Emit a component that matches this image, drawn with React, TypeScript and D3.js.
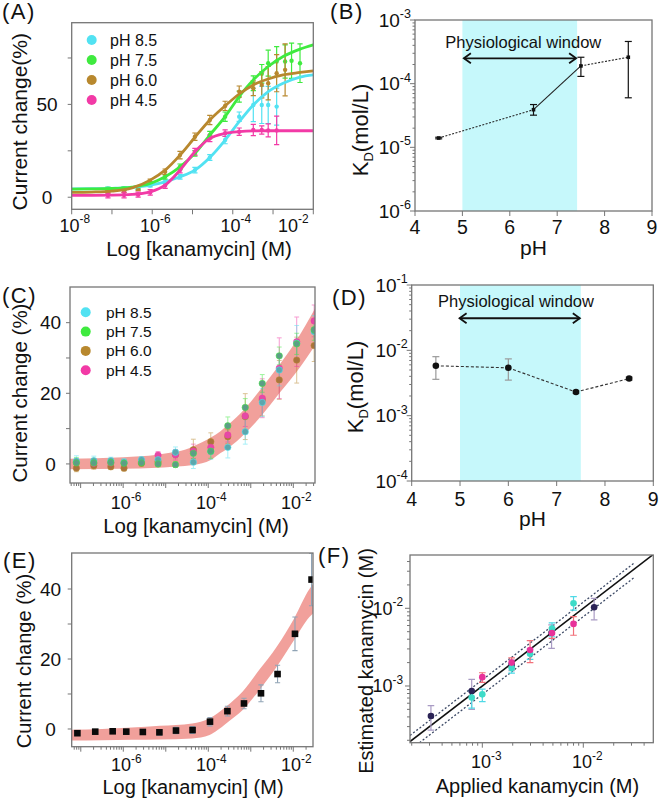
import React from "react";
import * as d3 from "d3";

const FONT = "'Liberation Sans', Arial, Helvetica, sans-serif";
const FRAME = "#767676";
const INK = "#111";

const CYAN = "#52e2f2";
const GREEN = "#3fea3f";
const BROWN = "#b8882e";
const PINK = "#f23aa6";

// ---------------- Panel A data ----------------
const A_LOG_CONC = [-7.1, -6.7, -6.35, -6.05, -5.68, -5.31, -4.94, -4.57, -4.19, -3.84, -3.49, -3.28, -3.12, -2.91, -2.7, -2.54, -2.33];
const A_PH85 = [4.6, 4.7, 5.0, 6.3, 8.3, 11.0, 14.6, 21.4, 30.8, 43.4, 49.7, 49.7, 49.7, 48.8, null, null, null];
const A_PH85_ERR = [0.8, 0.8, 0.8, 0.8, 1.0, 1.2, 1.5, 1.5, 2.0, 2.5, 9.0, 10.0, 10.0, 10.0, null, null, null];
const A_PH75 = [4.5, 4.6, 5.2, 7.2, 11.0, 16.4, 23.6, 33.5, 43.4, 54.2, 61.4, 66.5, 72.2, 73.1, 73.1, 73.5, 72.2];
const A_PH75_ERR = [0.8, 0.8, 0.8, 1.0, 1.2, 1.5, 1.5, 2.0, 2.5, 3.0, 4.0, 5.0, 7.0, 8.0, 9.0, 9.5, 10.4];
const A_PH60 = [3.0, 3.3, 4.6, 8.6, 13.7, 22.7, 32.6, 41.6, 49.2, 56.9, 58.7, 60.5, 61.4, 66.8, 68.6, null, null];
const A_PH60_ERR = [0.8, 0.8, 1.0, 1.2, 1.5, 2.0, 2.0, 2.5, 2.5, 3.0, 4.0, 7.0, 9.0, 10.0, 14.0, null, null];
const A_PH45 = [1.0, 1.2, 1.4, 2.6, 6.3, 14.6, 24.5, 31.7, 34.5, 35.3, 36.2, 36.2, 36.0, 36.0, null, null, null];
const A_PH45_ERR = [1.3, 1.5, 1.3, 1.5, 1.5, 1.5, 1.8, 1.8, 1.8, 2.0, 3.0, 2.2, 3.5, 7.7, null, null, null];

const A_FIT_LOG_CONC = [-8, -7.5, -7, -6.5, -6.05, -5.68, -5.31, -4.94, -4.57, -4.19, -3.84, -3.49, -3.12, -2.75, -2.33, -2];
const A_FIT_PH85 = [4.5, 4.6, 4.8, 5.3, 6.5, 8.3, 11.0, 14.6, 21.4, 30.8, 40.7, 49.7, 56.9, 61.4, 64.7, 65.9];
const A_FIT_PH75 = [4.4, 4.5, 4.7, 5.5, 7.4, 11.0, 16.4, 23.6, 33.5, 43.4, 54.2, 63.2, 70.4, 75.8, 79.8, 82.1];
const A_FIT_PH60 = [2.6, 2.8, 3.3, 5.0, 9.2, 14.6, 22.7, 32.3, 41.6, 49.2, 55.6, 60.5, 63.7, 65.9, 67.2, 68.1];
const A_FIT_PH45 = [1.0, 1.0, 1.1, 1.5, 2.9, 6.5, 14.6, 24.5, 31.7, 34.4, 35.3, 35.7, 35.8, 35.8, 35.8, 35.8];

const PH_LEGEND = ["pH 8.5", "pH 7.5", "pH 6.0", "pH 4.5"];
const A_X_LABEL_EXPS = [-8, -6, -4, -2];
const A_X_TICK_EXPS = [-8, -7, -6, -5, -4, -3, -2];
const A_Y_LABELS = [0, 50];
const A_Y_TICKS = [0, 25, 50, 75];

// ---------------- Panel B data ----------------
const B_PH = [4.5, 6.5, 7.5, 8.5];
const B_KD = [1.4e-5, 3.9e-5, 1.9e-4, 2.6e-4];
const B_KD_LO = [1.36e-5, 3.2e-5, 1.3e-4, 6.0e-5];
const B_KD_HI = [1.44e-5, 4.7e-5, 2.6e-4, 4.6e-4];
const B_WINDOW = [5, 7.42];
const B_ARROW = [5.01, 7.42, 2.5e-4];
const B_X_TICKS = [4, 5, 6, 7, 8, 9];
const B_Y_EXPS = [-6, -5, -4, -3];

// ---------------- Panel C data ----------------
const C_LOG_CONC = [-7.10, -6.69, -6.29, -5.98, -5.57, -5.18, -4.77, -4.35, -3.94, -3.54, -3.13, -2.73, -2.33, -1.92, -1.51];
const C_PH85 = [0.8, 0.9, 0.9, 0.5, 1.2, 1.2, 3.3, 0.5, 3.5, 4.7, 9.1, 17.4, 26.6, 34.2, 37.5];
const C_PH85_ERR = [1.5, 1.3, 1.0, 1.0, 0.8, 1.0, 1.5, 1.8, 2.2, 3.0, 3.5, 4.0, 4.5, 5.0, 4.5];
const C_PH75 = [0.3, 0.3, 0.4, 0.2, 0.3, 0.0, -0.2, 3.0, 3.6, 10.8, 16.0, 22.8, 30.6, 34.0, 38.0];
const C_PH75_ERR = [1.5, 1.3, 1.0, 1.0, 0.8, 0.8, 0.8, 1.5, 2.0, 2.5, 2.5, 2.5, 2.5, 3.0, 3.0];
const C_PH60 = [-1.2, -0.5, -0.8, -1.2, 0.2, 0.6, 2.7, 4.0, 6.3, 7.7, 13.4, 18.1, 23.8, 29.4, 33.5];
const C_PH60_ERR = [1.0, 1.0, 0.8, 0.8, 0.8, 1.0, 1.0, 3.0, 2.5, 2.0, 6.5, 4.5, 5.5, 6.5, 4.5];
const C_PH45 = [0.5, 0.2, 0.3, 0.3, 0.8, 2.5, 2.6, 3.6, 4.7, 8.2, 13.6, 18.6, 27.1, 34.6, 40.5];
const C_PH45_ERR = [1.0, 1.0, 0.8, 0.8, 0.8, 1.0, 1.5, 2.0, 2.0, 2.0, 3.0, 5.5, 8.6, 7.0, 4.5];
const C_BAND_LOG_CONC = [-7.25, -6.0, -5.2, -4.9, -4.55, -4.35, -3.94, -3.72, -3.54, -3.13, -2.73, -2.33, -1.92, -1.49];
const C_BAND_UPPER = [1.5, 1.9, 2.6, 3.2, 4.0, 5.0, 7.5, 9.2, 11.0, 15.8, 21.7, 28.0, 35.1, 44.0];
const C_BAND_LOWER = [-1.5, -1.4, -1.1, -0.9, -0.6, -0.3, 1.1, 3.0, 4.4, 8.7, 13.9, 20.0, 26.1, 33.5];
const LIN_Y_LABELS = [0, 20, 40];
const LIN_Y_TICKS = [0, 10, 20, 30, 40];
const CE_X_LABEL_EXPS = [-6, -4, -2];

// ---------------- Panel D data ----------------
const D_PH = [4.5, 6.0, 7.4, 8.5];
const D_KD = [5.8e-3, 5.4e-3, 2.3e-3, 3.7e-3];
const D_KD_LO = [3.6e-3, 3.5e-3, 2.2e-3, 3.5e-3];
const D_KD_HI = [8.0e-3, 7.4e-3, 2.4e-3, 3.9e-3];
const D_WINDOW = [5, 7.5];
const D_ARROW = [4.97, 7.5, 0.031];
const D_Y_EXPS = [-4, -3, -2, -1];

// ---------------- Panel E data ----------------
const E_LOG_CONC = [-7.08, -6.66, -6.25, -5.93, -5.54, -5.15, -4.76, -4.37, -3.96, -3.55, -3.16, -2.76, -2.37, -1.96, -1.57];
const E_VALUE = [-1.2, -0.76, -0.66, -0.76, -0.85, -0.95, -0.45, -0.3, 2.1, 5.1, 7.3, 10.2, 15.7, 27.2, 42.7];
const E_ERR = [0.5, 0.5, 0.6, 0.7, 0.7, 0.8, 0.9, 1.0, 1.2, 1.4, 1.5, 2.4, 2.5, 4.8, 7.5];
const E_BAND_LOG_CONC = [-7.25, -6.5, -5.8, -5.14, -4.38, -3.97, -3.78, -3.58, -3.19, -2.8, -2.39, -1.98, -1.62, -1.49];
const E_BAND_UPPER = [-0.2, 0.0, 0.4, 0.9, 1.6, 3.1, 4.5, 6.4, 10.7, 16.9, 23.5, 31.6, 40.0, 42.0];
const E_BAND_LOWER = [-3.3, -3.2, -3.1, -3.0, -2.7, -1.7, -0.3, 1.6, 5.4, 11.1, 17.8, 25.4, 32.0, 33.5];

// ---------------- Panel F data ----------------
const F_NAVY_X = [3.1e-4, 7.85e-4, 1.95e-3, 4.85e-3, 1.28e-2];
const F_NAVY_Y = [4.1e-4, 8.6e-4, 1.86e-3, 4.85e-3, 1.03e-2];
const F_NAVY_LO = [2.7e-4, 5.0e-4, 1.57e-3, 3.05e-3, 7.1e-3];
const F_NAVY_HI = [5.6e-4, 1.22e-3, 2.16e-3, 6.1e-3, 1.34e-2];
const F_CYAN_X = [7.85e-4, 1.0e-3, 1.95e-3, 2.97e-3, 4.9e-3, 8.0e-3];
const F_CYAN_Y = [7.1e-4, 7.8e-4, 1.7e-3, 2.6e-3, 5.5e-3, 1.16e-2];
const F_CYAN_LO = [5.2e-4, 6.3e-4, 1.46e-3, 2.2e-3, 4.3e-3, 9.5e-3];
const F_CYAN_HI = [8.6e-4, 9.1e-4, 1.96e-3, 3.0e-3, 6.5e-3, 1.41e-2];
const F_PINK_X = [1.0e-3, 1.95e-3, 2.97e-3, 4.9e-3, 8.0e-3];
const F_PINK_Y = [1.3e-3, 2.0e-3, 2.9e-3, 4.8e-3, 6.3e-3];
const F_PINK_LO = [1.11e-3, 1.75e-3, 2.0e-3, 4.1e-3, 4.5e-3];
const F_PINK_HI = [1.48e-3, 2.3e-3, 3.83e-3, 5.6e-3, 7.8e-3];
const F_UPPER_RATIO = 1.2;
const F_LOWER_RATIO = 0.78;
const F_GUIDE_MAX = 0.032;
const F_EXPS = [-3, -2];

// ---------------- helpers ----------------
const isDecade = (v: number) => Math.abs(Math.log10(v) - Math.round(Math.log10(v))) < 1e-6;

function Frame({ L, R, T, B }: any) {
  return <rect x={L} y={T} width={R - L} height={B - T} fill="none" stroke={FRAME} strokeWidth={1.3} />;
}

function Pow({ x, y, exp, size, anchor = "middle" }: any) {
  return (
    <text x={x} y={y} fontSize={size} textAnchor={anchor} fill={INK}>
      10<tspan dy={-size * 0.45} fontSize={size * 0.66}>{String(exp)}</tspan>
    </text>
  );
}

function ErrorBar({ x, y1, y2, cap, stroke, sw = 1, opacity = 1 }: any) {
  return (
    <g stroke={stroke} strokeWidth={sw} opacity={opacity}>
      <line x1={x} x2={x} y1={y1} y2={y2} />
      <line x1={x - cap} x2={x + cap} y1={y1} y2={y1} />
      <line x1={x - cap} x2={x + cap} y1={y2} y2={y2} />
    </g>
  );
}

function PanelLabel({ x, y, text }: any) {
  return (
    <text x={x} y={y} fontSize={22} letterSpacing={1.5} fill={INK}>
      {text}
    </text>
  );
}

function LogBottomTicks({ scale, B, major = 5, minor = 3, minorOn = true }: any) {
  const ticks: number[] = scale.ticks();
  return (
    <g stroke={FRAME} strokeWidth={1}>
      {ticks
        .filter((t) => minorOn || isDecade(t))
        .map((t, i) => (
          <line key={i} x1={scale(t)} x2={scale(t)} y1={B} y2={B + (isDecade(t) ? major : minor)} />
        ))}
    </g>
  );
}

function LogLeftTicks({ scale, L, major = 5, minor = 3 }: any) {
  const ticks: number[] = scale.ticks();
  return (
    <g stroke={FRAME} strokeWidth={1}>
      {ticks.map((t, i) => (
        <line key={i} y1={scale(t)} y2={scale(t)} x1={L} x2={L - (isDecade(t) ? major : minor)} />
      ))}
    </g>
  );
}

// ---------------- Panel A ----------------
function PanelA() {
  const L = 71.7, R = 313.3, T = 22.7, B = 209.3;
  const x = d3.scaleLog().domain([1e-8, 1e-2]).range([L, R]);
  const y = d3.scaleLinear().domain([-6.5, 94]).range([B, T]);
  const line = d3.line<[number, number]>().curve(d3.curveMonotoneX);
  const series = [
    { color: CYAN, fit: A_FIT_PH85, pts: A_PH85, err: A_PH85_ERR },
    { color: GREEN, fit: A_FIT_PH75, pts: A_PH75, err: A_PH75_ERR },
    { color: BROWN, fit: A_FIT_PH60, pts: A_PH60, err: A_PH60_ERR },
    { color: PINK, fit: A_FIT_PH45, pts: A_PH45, err: A_PH45_ERR },
  ];
  const legendColors = [CYAN, GREEN, BROWN, PINK];
  return (
    <g>
      <defs>
        <clipPath id="clipA">
          <rect x={L} y={T} width={R - L} height={B - T} />
        </clipPath>
      </defs>
      <g clipPath="url(#clipA)">
        {series.map((s, si) => (
          <g key={si}>
            {s.pts.map((v, i) =>
              v == null ? null : (
                <g key={i}>
                  <ErrorBar
                    x={x(Math.pow(10, A_LOG_CONC[i]))}
                    y1={y(v + (s.err[i] as number))}
                    y2={y(v - (s.err[i] as number))}
                    cap={2.6}
                    stroke={s.color}
                    sw={1.2}
                  />
                  <circle cx={x(Math.pow(10, A_LOG_CONC[i]))} cy={y(v)} r={2.2} fill={s.color} />
                </g>
              )
            )}
          </g>
        ))}
        {series.map((s, si) => (
          <path
            key={si}
            d={line(A_FIT_LOG_CONC.map((lx, i) => [x(Math.pow(10, lx)), y(s.fit[i])]) as any) || ""}
            fill="none"
            stroke={s.color}
            strokeWidth={2.8}
          />
        ))}
      </g>
      <Frame L={L} R={R} T={T} B={B} />
      <g stroke={FRAME} strokeWidth={1}>
        {A_X_TICK_EXPS.map((e) => (
          <line key={e} x1={x(Math.pow(10, e))} x2={x(Math.pow(10, e))} y1={B} y2={B + 5} />
        ))}
        {A_Y_TICKS.map((v) => (
          <line key={v} x1={L} x2={L - 4} y1={y(v)} y2={y(v)} />
        ))}
      </g>
      {A_X_LABEL_EXPS.map((e) => (
        <Pow key={e} x={Math.min(x(Math.pow(10, e)) + 3, R - 20)} y={231.5} exp={e} size={18} />
      ))}
      {A_Y_LABELS.map((v) => (
        <text key={v} x={47} y={y(v) + 6.6} fontSize={19} textAnchor="middle" fill={INK}>
          {v}
        </text>
      ))}
      {PH_LEGEND.map((t, i) => (
        <g key={t}>
          <circle cx={91.7} cy={40 + i * 20} r={5} fill={legendColors[i]} />
          <text x={110} y={40 + i * 20 + 5.6} fontSize={16} fill={INK}>
            {t}
          </text>
        </g>
      ))}
      <text x={199} y={255.5} fontSize={20.5} textAnchor="middle" fill={INK}>
        Log [kanamycin] (M)
      </text>
      <text transform="translate(27,121.7) rotate(-90)" fontSize={21} textAnchor="middle" fill={INK}>
        Current change(%)
      </text>
      <PanelLabel x={2} y={19} text="(A)" />
    </g>
  );
}

// ---------------- K_D panels (B, D) ----------------
function KdPanel({ L, R, T, B, yDomain, yExps, ph, kd, lo, hi, windowRange, arrow, label, labelPos, textY, textX, xLabelY, xTitleY, yTitleX, yTitleCenter, dashes, markerRect, errColor, lineColor }: any) {
  const x = d3.scaleLinear().domain([4, 9]).range([L, R]);
  const y = d3.scaleLog().domain(yDomain).range([B, T]);
  const ax1 = x(arrow[0]), ax2 = x(arrow[1]), ay = y(arrow[2]);
  return (
    <g>
      <rect x={x(windowRange[0])} y={T} width={x(windowRange[1]) - x(windowRange[0])} height={B - T} fill="#c6f8fb" />
      <text x={textX} y={textY} fontSize={16.5} textAnchor="middle" fill={INK}>
        Physiological window
      </text>
      <g stroke={INK} strokeWidth={1.8} fill="none">
        <line x1={ax1 + 1} x2={ax2 - 1} y1={ay} y2={ay} />
        <polyline points={`${ax1 + 8},${ay - 5} ${ax1 + 1},${ay} ${ax1 + 8},${ay + 5}`} />
        <polyline points={`${ax2 - 8},${ay - 5} ${ax2 - 1},${ay} ${ax2 - 8},${ay + 5}`} />
      </g>
      {ph.slice(0, -1).map((p: number, i: number) => (
        <line
          key={i}
          x1={x(p)}
          y1={y(kd[i])}
          x2={x(ph[i + 1])}
          y2={y(kd[i + 1])}
          stroke={lineColor}
          strokeWidth={1.1}
          strokeDasharray={dashes[i] || undefined}
        />
      ))}
      {ph.map((p: number, i: number) => (
        <g key={i}>
          <ErrorBar x={x(p)} y1={y(hi[i])} y2={y(lo[i])} cap={3.5} stroke={errColor} sw={1.2} />
          {markerRect ? (
            <rect x={x(p) - 1.8} y={y(kd[i]) - 1.8} width={3.6} height={3.6} fill={INK} />
          ) : (
            <circle cx={x(p)} cy={y(kd[i])} r={3.3} fill={INK} />
          )}
        </g>
      ))}
      <Frame L={L} R={R} T={T} B={B} />
      <g stroke={FRAME} strokeWidth={1}>
        {B_X_TICKS.map((t) => (
          <line key={t} x1={x(t)} x2={x(t)} y1={B} y2={B + 5} />
        ))}
      </g>
      <LogLeftTicks scale={y} L={L} major={5} minor={2.5} />
      {B_X_TICKS.map((t) => (
        <text key={t} x={x(t)} y={xLabelY} fontSize={19.5} textAnchor="middle" fill={INK}>
          {t}
        </text>
      ))}
      {yExps.map((e: number) => (
        <Pow key={e} x={L - 4} y={y(Math.pow(10, e)) + 6.5} exp={e} size={19} anchor="end" />
      ))}
      <text x={(L + R) / 2} y={xTitleY} fontSize={21} textAnchor="middle" fill={INK}>
        pH
      </text>
      <text transform={`translate(${yTitleX},${yTitleCenter}) rotate(-90)`} fontSize={22} textAnchor="middle" fill={INK}>
        K<tspan dy={5} fontSize={13}>D</tspan>
        <tspan dy={-5}>(mol/L)</tspan>
      </text>
      <PanelLabel x={labelPos[0]} y={labelPos[1]} text={label} />
    </g>
  );
}

// ---------------- Band panels (C, E) ----------------
function PanelC() {
  const L = 70, R = 315, T = 287, B = 483;
  const x = d3.scaleLog().domain([Math.pow(10, -7.25), Math.pow(10, -1.49)]).range([L, R]);
  const y = d3.scaleLinear().domain([-5.4, 50.1]).range([B, T]);
  const area = d3
    .area<number>()
    .x((lx) => x(Math.pow(10, lx)))
    .y0((_, i) => y(C_BAND_LOWER[i]))
    .y1((_, i) => y(C_BAND_UPPER[i]))
    .curve(d3.curveMonotoneX);
  const series = [
    { fill: "#a9733d", stroke: BROWN, pts: C_PH60, err: C_PH60_ERR },
    { fill: "#e44aa6", stroke: PINK, pts: C_PH45, err: C_PH45_ERR },
    { fill: "#5ca7ad", stroke: CYAN, pts: C_PH85, err: C_PH85_ERR },
    { fill: "#5c9e86", stroke: GREEN, pts: C_PH75, err: C_PH75_ERR },
  ];
  const legendColors = [CYAN, GREEN, BROWN, PINK];
  return (
    <g>
      <defs>
        <clipPath id="clipC">
          <rect x={L} y={T} width={R - L} height={B - T} />
        </clipPath>
      </defs>
      <g clipPath="url(#clipC)">
        <path d={area(C_BAND_LOG_CONC) || ""} fill="#ef8f8a" opacity={0.85} />
        {series.map((s, si) => (
          <g key={si}>
            {s.pts.map((v, i) => (
              <ErrorBar
                key={i}
                x={x(Math.pow(10, C_LOG_CONC[i]))}
                y1={y(v + s.err[i])}
                y2={y(v - s.err[i])}
                cap={2.4}
                stroke={s.stroke}
                sw={1}
                opacity={0.5}
              />
            ))}
          </g>
        ))}
        {series.map((s, si) => (
          <g key={si}>
            {s.pts.map((v, i) => (
              <circle key={i} cx={x(Math.pow(10, C_LOG_CONC[i]))} cy={y(v)} r={3.2} fill={s.fill} stroke={s.stroke} strokeWidth={0.8} strokeOpacity={0.7} />
            ))}
          </g>
        ))}
      </g>
      <Frame L={L} R={R} T={T} B={B} />
      <LogBottomTicks scale={x} B={B} />
      <g stroke={FRAME} strokeWidth={1}>
        {LIN_Y_TICKS.map((v) => (
          <line key={v} x1={L} x2={L - 4} y1={y(v)} y2={y(v)} />
        ))}
      </g>
      {CE_X_LABEL_EXPS.map((e) => (
        <Pow key={e} x={x(Math.pow(10, e)) + 3} y={509} exp={e} size={18} />
      ))}
      {LIN_Y_LABELS.map((v) => (
        <text key={v} x={50.5} y={y(v) + 6.6} fontSize={19} textAnchor="middle" fill={INK}>
          {v}
        </text>
      ))}
      {PH_LEGEND.map((t, i) => (
        <g key={t}>
          <circle cx={85.7} cy={312.3 + i * 19.3} r={5} fill={legendColors[i]} />
          <text x={106} y={312.3 + i * 19.3 + 5.4} fontSize={15.5} fill={INK}>
            {t}
          </text>
        </g>
      ))}
      <text x={196} y={533} fontSize={20.5} textAnchor="middle" fill={INK}>
        Log [kanamycin] (M)
      </text>
      <text transform="translate(26.5,393) rotate(-90)" fontSize={20.5} textAnchor="middle" fill={INK}>
        Current change (%)
      </text>
      <PanelLabel x={2} y={302.5} text="(C)" />
    </g>
  );
}

function PanelE() {
  const L = 71.7, R = 313, T = 553, B = 746.7;
  const x = d3.scaleLog().domain([Math.pow(10, -7.214), Math.pow(10, -1.536)]).range([L, R]);
  const y = d3.scaleLinear().domain([-5.06, 50.29]).range([B, T]);
  const area = d3
    .area<number>()
    .x((lx) => x(Math.pow(10, lx)))
    .y0((_, i) => y(E_BAND_LOWER[i]))
    .y1((_, i) => y(E_BAND_UPPER[i]))
    .curve(d3.curveMonotoneX);
  return (
    <g>
      <defs>
        <clipPath id="clipE">
          <rect x={L} y={T} width={R - L} height={B - T} />
        </clipPath>
      </defs>
      <g clipPath="url(#clipE)">
        <path d={area(E_BAND_LOG_CONC) || ""} fill="#ef8f8a" opacity={0.85} />
        {E_VALUE.map((v, i) => (
          <ErrorBar
            key={i}
            x={x(Math.pow(10, E_LOG_CONC[i]))}
            y1={y(v + E_ERR[i])}
            y2={y(v - E_ERR[i])}
            cap={2.6}
            stroke="#8fa3b5"
            sw={1.1}
          />
        ))}
        {E_VALUE.map((v, i) => (
          <rect key={i} x={x(Math.pow(10, E_LOG_CONC[i])) - 3.3} y={y(v) - 3.3} width={6.6} height={6.6} fill="#0a0a0a" />
        ))}
      </g>
      <Frame L={L} R={R} T={T} B={B} />
      <LogBottomTicks scale={x} B={B} />
      <g stroke={FRAME} strokeWidth={1}>
        {LIN_Y_TICKS.map((v) => (
          <line key={v} x1={L} x2={L - 4} y1={y(v)} y2={y(v)} />
        ))}
      </g>
      {CE_X_LABEL_EXPS.map((e) => (
        <Pow key={e} x={x(Math.pow(10, e)) + 3} y={771} exp={e} size={18} />
      ))}
      {LIN_Y_LABELS.map((v) => (
        <text key={v} x={50.5} y={y(v) + 6.6} fontSize={19} textAnchor="middle" fill={INK}>
          {v}
        </text>
      ))}
      <text x={193} y={794} fontSize={20} textAnchor="middle" fill={INK}>
        Log [kanamycin] (M)
      </text>
      <text transform="translate(30.5,661) rotate(-90)" fontSize={20} textAnchor="middle" fill={INK}>
        Current change (%)
      </text>
      <PanelLabel x={3} y={567.5} text="(E)" />
    </g>
  );
}

// ---------------- Panel F ----------------
function PanelF() {
  const L = 410, R = 653.3, T = 555, B = 742.7;
  const x = d3.scaleLog().domain([Math.pow(10, -3.716), Math.pow(10, -1.307)]).range([L, R]);
  const y = d3.scaleLog().domain([Math.pow(10, -3.73), Math.pow(10, -1.314)]).range([B, T]);
  const xmin = x.domain()[0], xmax = x.domain()[1];
  const groups = [
    { fill: "#2b2356", err: "#a99bc4", xs: F_NAVY_X, ys: F_NAVY_Y, lo: F_NAVY_LO, hi: F_NAVY_HI },
    { fill: "#3ddbc8", err: "#4fd9e6", xs: F_CYAN_X, ys: F_CYAN_Y, lo: F_CYAN_LO, hi: F_CYAN_HI },
    { fill: "#e8329a", err: "#f2707a", xs: F_PINK_X, ys: F_PINK_Y, lo: F_PINK_LO, hi: F_PINK_HI },
  ];
  return (
    <g>
      <defs>
        <clipPath id="clipF">
          <rect x={L} y={T} width={R - L} height={B - T} />
        </clipPath>
      </defs>
      <g clipPath="url(#clipF)">
        <line x1={x(xmin)} y1={y(xmin)} x2={x(xmax)} y2={y(xmax)} stroke={INK} strokeWidth={1.6} />
        <line x1={x(xmin)} y1={y(xmin * F_UPPER_RATIO)} x2={x(F_GUIDE_MAX)} y2={y(F_GUIDE_MAX * F_UPPER_RATIO)} stroke="#3d4a66" strokeWidth={1.3} strokeDasharray="2,2" />
        <line x1={x(xmin)} y1={y(xmin * F_LOWER_RATIO)} x2={x(F_GUIDE_MAX)} y2={y(F_GUIDE_MAX * F_LOWER_RATIO)} stroke="#3d4a66" strokeWidth={1.3} strokeDasharray="2,2" />
        {groups.map((g, gi) => (
          <g key={gi}>
            {g.xs.map((xv, i) => (
              <ErrorBar key={i} x={x(xv)} y1={y(g.hi[i])} y2={y(g.lo[i])} cap={3.3} stroke={g.err} sw={1.2} />
            ))}
          </g>
        ))}
        {groups.map((g, gi) => (
          <g key={gi}>
            {g.xs.map((xv, i) => (
              <circle key={i} cx={x(xv)} cy={y(g.ys[i])} r={3.3} fill={g.fill} />
            ))}
          </g>
        ))}
      </g>
      <Frame L={L} R={R} T={T} B={B} />
      <LogBottomTicks scale={x} B={B} />
      <LogLeftTicks scale={y} L={L} />
      {F_EXPS.map((e) => (
        <Pow key={e} x={x(Math.pow(10, e)) + 4} y={768} exp={e} size={18} />
      ))}
      {F_EXPS.map((e) => (
        <Pow key={e} x={403} y={y(Math.pow(10, e)) + 6.3} exp={e} size={18} anchor="end" />
      ))}
      <text x={537.5} y={793} fontSize={20} textAnchor="middle" fill={INK}>
        Applied kanamycin (M)
      </text>
      <text transform="translate(372.5,661) rotate(-90)" fontSize={20} textAnchor="middle" fill={INK}>
        Estimated kanamycin (M)
      </text>
      <PanelLabel x={318} y={563} text="(F)" />
    </g>
  );
}

export default function App() {
  return (
    <svg
      width={661}
      height={798}
      viewBox="0 0 661 798"
      style={{ position: "absolute", left: 0, top: 0, display: "block" }}
      fontFamily={FONT}
    >
      <rect width={661} height={798} fill="#fff" />
      <PanelA />
      <KdPanel
        L={415}
        R={652}
        T={20}
        B={211}
        yDomain={[1e-6, 1e-3]}
        yExps={B_Y_EXPS}
        ph={B_PH}
        kd={B_KD}
        lo={B_KD_LO}
        hi={B_KD_HI}
        windowRange={B_WINDOW}
        arrow={B_ARROW}
        label="(B)"
        labelPos={[330, 19.3]}
        textX={523.3}
        textY={48}
        xLabelY={234}
        xTitleY={255}
        yTitleX={368}
        yTitleCenter={130}
        dashes={["2,1.5", null, "2,1.5"]}
        markerRect={true}
        errColor={INK}
        lineColor="#222"
      />
      <PanelC />
      <KdPanel
        L={411.7}
        R={653.3}
        T={285}
        B={481}
        yDomain={[1e-4, 1e-1]}
        yExps={D_Y_EXPS}
        ph={D_PH}
        kd={D_KD}
        lo={D_KD_LO}
        hi={D_KD_HI}
        windowRange={D_WINDOW}
        arrow={D_ARROW}
        label="(D)"
        labelPos={[332, 305]}
        textX={516}
        textY={306.5}
        xLabelY={506}
        xTitleY={526}
        yTitleX={362.5}
        yTitleCenter={387}
        dashes={["3,2", "3,2", "3,2"]}
        markerRect={false}
        errColor="#9a9a9a"
        lineColor="#333"
      />
      <PanelE />
      <PanelF />
    </svg>
  );
}
